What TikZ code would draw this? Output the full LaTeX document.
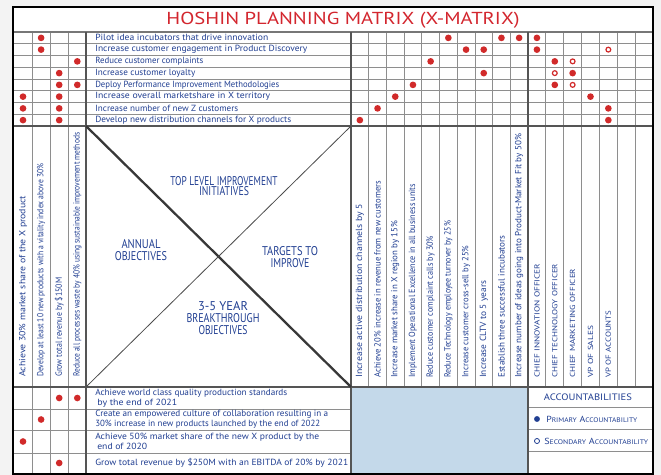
\documentclass[tikz,border=0pt]{standalone}
\usepackage{fontspec}
\setmainfont{PT Sans}
\usepackage{graphicx}

% one pixel of the sheet
\newdimen\pxu \pxu=0.75pt
% stretch a handwritten label to a given length (in sheet pixels), height unchanged
\newcommand\fitto[2]{\resizebox{#1\pxu}{\height}{#2}}
% hand-lettered small caps: big initial, small rest
\newcommand\capword[2]{{\fontsize{6.6}{7}\selectfont#1}{\fontsize{5}{6}\selectfont#2}}

\definecolor{pagebg}{HTML}{F3F3F3}
\definecolor{gridgray}{HTML}{8E8E8E}
\definecolor{rulegray}{HTML}{555555}
\definecolor{ink}{HTML}{213F92}
\definecolor{dotred}{HTML}{D12A2A}
\definecolor{titlered}{HTML}{D3262E}
\definecolor{planfill}{HTML}{C4D9EA}

\begin{document}
\begin{tikzpicture}[x=0.75pt, y=-0.75pt,
  declare function={
    lx(\k)=23+18.1*(\k-1);
    tx(\k)=351+17.7*(\k-0.5);
    ox(\k)=528+17.857*(\k-0.5);
    ry(\r)=32+11.75*(\r-0.5);
  },
  gridline/.style={draw=gridgray, line width=0.6pt},
  heavyline/.style={draw=rulegray, line width=1.1pt},
  hand/.style={text=ink, inner sep=0pt, font=\fontsize{6.7}{7.5}\selectfont},
  rownote/.style={hand, anchor=west, align=left},
  colnote/.style={hand, rotate=90, anchor=west},
  ownernote/.style={colnote, font=\fontsize{5.5}{6.5}\selectfont},
  bigcaps/.style={hand, align=center, font=\fontsize{9.5}{9}\selectfont},
  fulldot/.style={circle, fill=dotred, minimum size=5pt, inner sep=0pt},
  opendot/.style={circle, draw=dotred, line width=0.9pt, minimum size=3.6pt, inner sep=0pt},
  inkdot/.style={circle, fill=ink, minimum size=4.4pt, inner sep=0pt},
  inkring/.style={circle, draw=ink, line width=0.6pt, minimum size=3.8pt, inner sep=0pt},
]
\useasboundingbox (0,0) rectangle (661,475);

% page, sheet and the empty planning cell
\fill[pagebg] (0,0) rectangle (661,475);
\fill[white] (13,7) rectangle (653,474);
\fill[planfill] (351,387) rectangle (528,474);

% thin grid
\foreach \r in {1,...,7} \draw[gridline] (13,{32+11.75*\r}) -- (653,{32+11.75*\r});
\foreach \x in {32.5,50.5,68.5} \draw[gridline] (\x,32) -- (\x,474);
\foreach \k in {1,...,9} \draw[gridline] ({351+17.7*\k},32) -- ({351+17.7*\k},387);
\foreach \k in {1,...,6} \draw[gridline] ({528+17.857*\k},32) -- ({528+17.857*\k},387);
\foreach \y in {409,430,453} \draw[gridline] (13,\y) -- (351,\y);
\foreach \y in {407,429,451} \draw[gridline] (528,\y) -- (653,\y);
\draw[gridline, draw=rulegray!80, line width=0.8pt] (13,32) -- (653,32);

% section rules
\draw[heavyline] (86,32) -- (86,474);
\draw[heavyline] (351,32) -- (351,474);
\draw[heavyline] (528,32) -- (528,474);
\draw[heavyline] (13,126) -- (653,126);
\draw[heavyline] (13,387) -- (653,387);

% the X in the centre square
\coordinate (sqTL) at (86,126);
\coordinate (sqTR) at (351,126);
\coordinate (sqBL) at (86,387);
\coordinate (sqBR) at (351,387);
\draw[draw=black!78, line width=1.7pt] (sqTL) -- (sqBR);
\draw[draw=black!70, line width=0.6pt] (sqBL) -- (sqTR);

% outer frame
\draw[black, line width=1.9pt] (13,7) rectangle (653,474);

% title
\node[inner sep=0pt, text=titlered, font=\fontsize{13}{15}\selectfont] (title) at (343,20.5)
  {\fitto{353}{HOSHIN PLANNING MATRIX (X-MATRIX)}};

% improvement initiatives (rows)
\foreach \r/\w/\t in {
  1/173/{Pilot idea incubators that drive innovation},
  2/212/{Increase customer engagement in Product Discovery},
  3/108/{Reduce customer complaints},
  4/100/{Increase customer loyalty},
  5/184/{Deploy Performance Improvement Methodologies},
  6/175/{Increase overall marketshare in X territory},
  7/143/{Increase number of new Z customers},
  8/196/{Develop new distribution channels for X products}}
  \node[rownote] (init\r) at (95,{ry(\r)}) {\fitto{\w}{\t}};

% annual objectives (left columns)
\foreach \c/\w/\t in {
  1/181/{Achieve 30\% market share of the X product},
  2/213/{Develop at least 10 new products with a vitality index above 30\%},
  3/99/{Grow total revenue by \$150M},
  4/244/{Reduce all processes waste by 40\% using sustainable improvement methods}}
  \node[colnote] (annual\c) at ({lx(\c)},377) {\fitto{\w}{\t}};

% targets to improve (right columns)
\foreach \c/\w/\t in {
  1/174/{Increase active distribution channels by 5},
  2/197/{Achieve 20\% increase in revenue from new customers},
  3/157/{Increase market share in X region by 15\%},
  4/194/{Implement Operational Excellence in all business units},
  5/142/{Reduce customer complaint calls by 30\%},
  6/157/{Reduce Technology employee turnover by 25\%},
  7/132/{Increase customer cross-sell by 25\%},
  8/97/{Increase CLTV to 5 years},
  9/142/{Establish three successful incubators},
  10/244/{Increase number of ideas going into Product-Market Fit by 50\%}}
  \node[colnote] (target\c) at ({tx(\c)},378) {\fitto{\w}{\t}};

% owners
\foreach \c/\w/\t in {
  1/114/{CHIEF INNOVATION OFFICER},
  2/114/{CHIEF TECHNOLOGY OFFICER},
  3/109/{CHIEF MARKETING OFFICER},
  4/52/{VP OF SALES},
  5/67/{VP OF ACCOUNTS}}
  \node[ownernote] (owner\c) at ({ox(\c)},378) {\fitto{\w}{\t}};

% breakthrough objectives (bottom rows)
\node[rownote] (goal1) at (95,398)
  {\fitto{192}{Achieve world class quality production standards}\\\hspace*{2\pxu}\fitto{80}{by the end of 2021}};
\node[rownote] (goal2) at (95,419)
  {\fitto{233}{Create an empowered culture of collaboration resulting in a}\\\fitto{225}{30\% increase in new products launched by the end of 2022}};
\node[rownote] (goal3) at (95,441.5)
  {\fitto{224}{Achieve 50\% market share of the new X product by the}\\\hspace*{2\pxu}\fitto{50}{end of 2020}};
\node[rownote] (goal4) at (95,463) {\fitto{253}{Grow total revenue by \$250M with an EBITDA of 20\% by 2021}};

% quadrant headings
\node[bigcaps, font=\fontsize{9.5}{8}\selectfont] (qTop) at (224,186)
  {\fitto{107}{TOP LEVEL IMPROVEMENT}\\\fitto{50}{INITIATIVES}};
\node[bigcaps] (qLeft) at (141,250) {\fitto{39}{ANNUAL}\\\fitto{52}{OBJECTIVES}};
\node[bigcaps] (qRight) at (290,257.5) {\fitto{56}{TARGETS TO}\\\fitto{39}{IMPROVE}};
\node[bigcaps] (qBottom) at (223,318.5)
  {\fitto{50}{3-5 YEAR}\\\fitto{73}{BREAKTHROUGH}\\\fitto{49}{OBJECTIVES}};

% correlation dots: initiatives x annual objectives
\foreach \r/\c in {1/2,2/2,3/4,4/3,5/3,5/4,6/1,6/3,7/1,7/3,8/1,8/3}
  \node[fulldot] (ia-\r-\c) at ({lx(\c)},{ry(\r)}) {};
% initiatives x targets
\foreach \r/\c in {1/6,1/9,1/10,2/7,2/8,3/5,4/8,5/4,6/3,7/2,8/1}
  \node[fulldot] (it-\r-\c) at ({tx(\c)},{ry(\r)}) {};
% initiatives x owners
\foreach \r/\c in {1/1,2/1,3/2,4/3,5/2,6/4,7/5,8/5}
  \node[fulldot] (io-\r-\c) at ({ox(\c)},{ry(\r)}) {};
\foreach \r/\c in {2/5,3/3,4/2,5/3}
  \node[opendot] (is-\r-\c) at ({ox(\c)},{ry(\r)}) {};
% breakthrough objectives x annual objectives
\foreach \b/\y/\c in {1/398/3,1/398/4,2/419.5/2,3/441.5/1,4/463/3}
  \node[fulldot] (ba-\b-\c) at ({lx(\c)},\y) {};

% accountability key
\node[hand, font=\fontsize{7}{8}\selectfont] (acct) at (588,397) {\fitto{88}{ACCOUNTABILITIES}};
\node[inkdot] (keyPrimary) at (537,419) {};
\node[hand, anchor=west] (keyPrimaryText) at (546,419)
  {\fitto{91}{\capword{P}{RIMARY} \capword{A}{CCOUNTABILITY}}};
\node[inkring] (keySecondary) at (537,441) {};
\node[hand, anchor=west] (keySecondaryText) at (544,441)
  {\fitto{104}{\capword{S}{ECONDARY} \capword{A}{CCOUNTABILITY}}};
\end{tikzpicture}
\end{document}
